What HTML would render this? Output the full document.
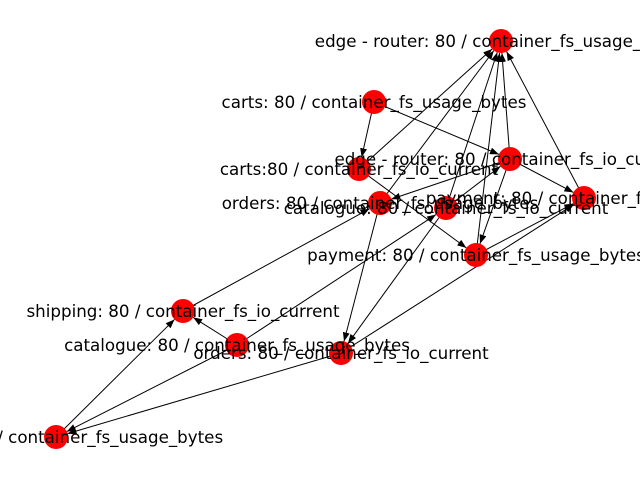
<!DOCTYPE html>
<html><head><meta charset="utf-8"><style>
html,body{margin:0;padding:0;background:#fff;width:640px;height:480px;overflow:hidden}
svg text{font-family:"DejaVu Sans","Liberation Sans",sans-serif;font-size:16.7px;fill:#000}
</style></head><body>
<svg id="g" width="640" height="480" viewBox="0 0 640 480" xmlns="http://www.w3.org/2000/svg">
<defs><marker id="ar" markerWidth="9" markerHeight="7" refX="9" refY="3.5" orient="auto" markerUnits="userSpaceOnUse"><path d="M0,0 L9,3.5 L0,7 z" fill="#000"/></marker></defs>
<g id="edges"></g><g id="nodes"></g><g id="labels"></g>
</svg>
<script>
var N={A:[501,41,"edge - router: 80 / container_fs_usage_bytes"],B:[374,102,"carts: 80 / container_fs_usage_bytes"],C:[359,169,"carts:80 / container_fs_io_current"],D:[510,159,"edge - router: 80 / container_fs_io_current"],E:[380,203,"orders: 80 / container_fs_usage_bytes"],F:[446,208,"catalogue: 80 / container_fs_io_current"],G:[584,198,"payment: 80 / container_fs_io_current"],H:[476,255,"payment: 80 / container_fs_usage_bytes"],I:[183,311,"shipping: 80 / container_fs_io_current"],J:[237,345,"catalogue: 80 / container_fs_usage_bytes"],K:[341,353,"orders: 80 / container_fs_io_current"],L:[56,437,"shipping: 80 / container_fs_usage_bytes"]};
var E="BC BD CA CH DA DG DH DE FD EA FA HA GA HG KG IE JF JI JL KL LI EK FK".split(" ");
var ns="http://www.w3.org/2000/svg";
function el(t,a,p){var e=document.createElementNS(ns,t);for(var k in a)e.setAttribute(k,a[k]);document.getElementById(p).appendChild(e);return e;}
E.forEach(function(s){var a=N[s[0]],b=N[s[1]];var dx=b[0]-a[0],dy=b[1]-a[1],d=Math.sqrt(dx*dx+dy*dy),r=12;
el("line",{x1:a[0],y1:a[1],x2:b[0]-dx/d*r,y2:b[1]-dy/d*r,stroke:"#000","stroke-width":1,"marker-end":"url(#ar)"},"edges");});
for(var k in N){var n=N[k];el("circle",{cx:n[0],cy:n[1],r:12,fill:"#ff0000"},"nodes");
var t=el("text",{x:n[0],y:n[1]+6,"text-anchor":"middle"},"labels");t.textContent=n[2];}
</script>
</body></html>
